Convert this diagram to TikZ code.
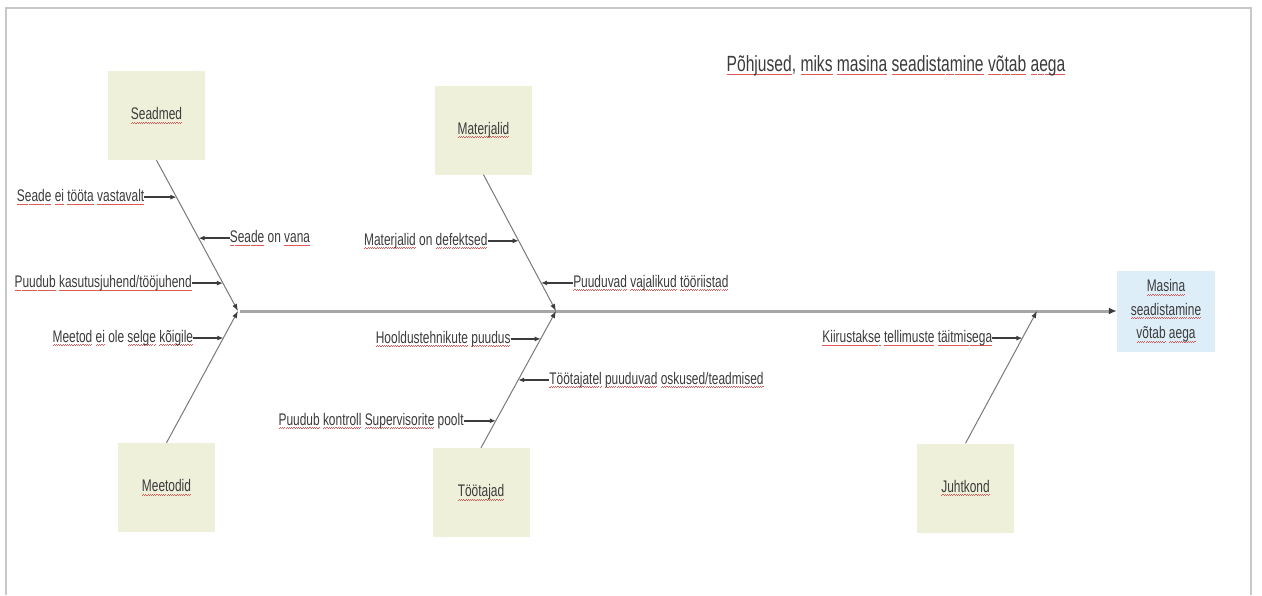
\documentclass[tikz,border=0pt]{standalone}
\usepackage{fontspec}
\setmainfont{Liberation Sans}[FakeStretch=0.71]
\usetikzlibrary{arrows.meta,calc}

\definecolor{boxfill}{HTML}{EEF0DA}
\definecolor{effectfill}{HTML}{DDEEF9}
\definecolor{framegray}{HTML}{C8C8C8}
\definecolor{inkgray}{HTML}{3C3C3C}
\definecolor{bonegray}{HTML}{7A7A7A}
\definecolor{spinegray}{HTML}{A6A6A6}
\definecolor{squiggle}{HTML}{E05A5A}

% spell-check style wavy underline for a single word
\newsavebox\splbox
\newcommand\spl[1]{\sbox\splbox{#1}%
  \rlap{\textcolor{squiggle}{\hbox to\wd\splbox{\xleaders\hbox{\rule[-3.4pt]{1.1pt}{0.6pt}\rule[-2.7pt]{1.1pt}{0.6pt}}\hfill}}}%
  \usebox\splbox}

\tikzset{
  cat/.style={fill=boxfill, minimum width=97pt, minimum height=89pt, inner sep=0pt,
    text=inkgray, font=\fontsize{16.8}{20}\selectfont},
  effect/.style={fill=effectfill, minimum width=98pt, minimum height=81pt, inner sep=0pt,
    align=center, text=inkgray, font=\fontsize{16.8}{23.5}\selectfont},
  cause/.style={inner sep=0pt, text=inkgray, font=\fontsize{16.8}{20}\selectfont},
  heading/.style={inner sep=0pt, text=inkgray, font=\fontsize{22}{26}\selectfont},
  bone/.style={draw=bonegray, line width=1pt, -{Latex[length=7pt,width=5pt,color=inkgray]}},
  twig/.style={draw=inkgray, line width=1.4pt, -{Latex[length=6pt,width=5pt]}},
  spine/.style={draw=spinegray, line width=3pt, -{Latex[length=8pt,width=7pt,color=inkgray]}},
  frame/.style={draw=framegray, line width=2pt}
}

\begin{document}
\begin{tikzpicture}[x=1pt,y=-1pt]
\useasboundingbox (0,0) rectangle (1262,595);
\fill[white] (0,0) rectangle (1262,595);
\draw[frame] (6,595) -- (6,8) -- (1251,8) -- (1251,595);

% heading
\node[heading] (ti) at (896,66) {\spl{Põhjused}, \spl{miks} \spl{masina} \spl{seadistamine} \spl{võtab} \spl{aega}};

% category boxes and the effect box
\node[cat] (sd) at (156.5,115.5) {\spl{Seadmed}};
\node[cat] (ma) at (483.5,130) {\spl{Materjalid}};
\node[cat] (me) at (166.5,487.5) {\spl{Meetodid}};
\node[cat] (tt) at (481,492.5) {\spl{Töötajad}};
\node[cat] (ju) at (965.5,488) {\spl{Juhtkond}};
\node[effect] (ef) at (1166,311) {\spl{Masina}\\ \spl{seadistamine}\\ \spl{võtab} \spl{aega}};

% junctions on the spine
\coordinate (j1) at (238,311);
\coordinate (j2) at (556,311);
\coordinate (j3) at (1037,311);
\coordinate (s0) at (240,311);

% spine and bones
\draw[spine] (s0) -- (ef.west);
\draw[bone] (sd.south) -- (j1);
\draw[bone] (me.north) -- (j1);
\draw[bone] (ma.south) -- (j2);
\draw[bone] (tt.north) -- (j2);
\draw[bone] (ju.north) -- (j3);

% points where the causes meet the bones
\coordinate (p1) at ($(sd.south)!0.245!(j1)$);
\coordinate (p2) at ($(sd.south)!0.517!(j1)$);
\coordinate (p3) at ($(sd.south)!0.815!(j1)$);
\coordinate (p4) at ($(me.north)!0.795!(j1)$);
\coordinate (p5) at ($(ma.south)!0.485!(j2)$);
\coordinate (p6) at ($(ma.south)!0.794!(j2)$);
\coordinate (p7) at ($(tt.north)!0.796!(j2)$);
\coordinate (p8) at ($(tt.north)!0.496!(j2)$);
\coordinate (p9) at ($(tt.north)!0.197!(j2)$);
\coordinate (p10) at ($(ju.north)!0.795!(j3)$);

% causes
\node[cause,anchor=east] (c1) at ([xshift=-32pt]p1) {\spl{Seade} \spl{ei} \spl{tööta} \spl{vastavalt}};
\node[cause,anchor=west] (c2) at ([xshift=31pt]p2) {\spl{Seade} on \spl{vana}};
\node[cause,anchor=east] (c3) at ([xshift=-31pt]p3) {\spl{Puudub} \spl{kasutusjuhend/tööjuhend}};
\node[cause,anchor=east] (c4) at ([xshift=-30pt]p4) {\spl{Meetod} \spl{ei} ole \spl{selge} \spl{kõigile}};
\node[cause,anchor=east] (c5) at ([xshift=-31pt]p5) {\spl{Materjalid} on \spl{defektsed}};
\node[cause,anchor=west] (c6) at ([xshift=32pt]p6) {\spl{Puuduvad} \spl{vajalikud} \spl{tööriistad}};
\node[cause,anchor=east] (c7) at ([xshift=-30pt]p7) {\spl{Hooldustehnikute} \spl{puudus}};
\node[cause,anchor=west] (c8) at ([xshift=31pt]p8) {\spl{Töötajatel} \spl{puuduvad} \spl{oskused/teadmised}};
\node[cause,anchor=east] (c9) at ([xshift=-32pt]p9) {\spl{Puudub} \spl{kontroll} \spl{Supervisorite} poolt};
\node[cause,anchor=east] (c10) at ([xshift=-30pt]p10) {\spl{Kiirustakse} \spl{tellimuste} \spl{täitmisega}};

% cause arrows
\draw[twig] (c1.east) -- (p1);
\draw[twig] (c2.west) -- (p2);
\draw[twig] (c3.east) -- (p3);
\draw[twig] (c4.east) -- (p4);
\draw[twig] (c5.east) -- (p5);
\draw[twig] (c6.west) -- (p6);
\draw[twig] (c7.east) -- (p7);
\draw[twig] (c8.west) -- (p8);
\draw[twig] (c9.east) -- (p9);
\draw[twig] (c10.east) -- (p10);
\end{tikzpicture}
\end{document}
